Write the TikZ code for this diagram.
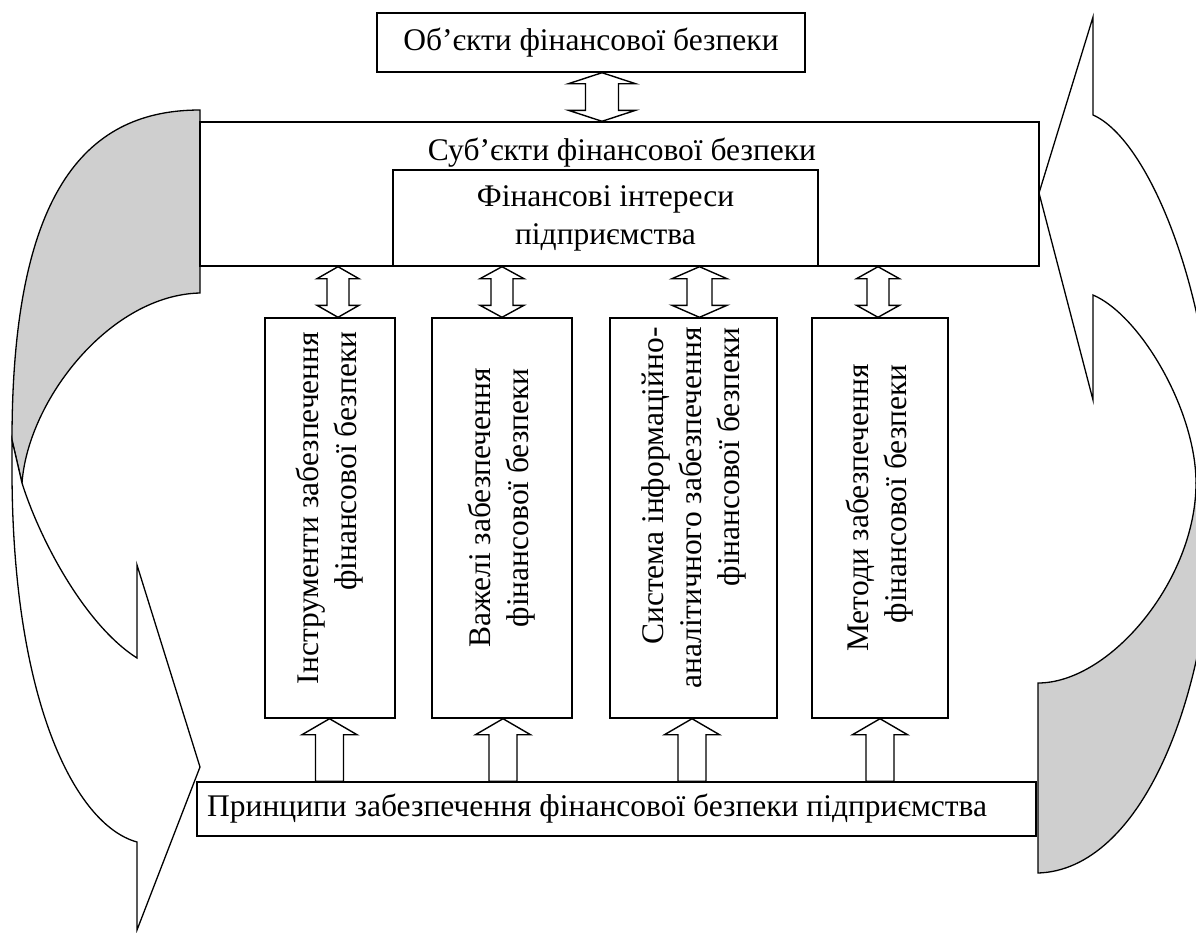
\documentclass[tikz,border=0pt]{standalone}
\usepackage{fontspec}
\setmainfont{Liberation Serif}
\usetikzlibrary{calc}
\definecolor{shade}{RGB}{207,207,207}
\tikzset{
  box/.style={draw, line width=1.4pt, fill=white, inner sep=0pt},
  txt/.style={font=\fontsize{31.5}{38}\selectfont, inner sep=0pt},
  vtxt/.style={txt, rotate=90, align=right},
  blockarrow/.style={draw, line width=1.4pt, fill=white, line join=miter},
  ribbon/.style={draw, line width=1.3pt, line join=miter},
}
\newcommand\darr[6]{%
  \coordinate (ax) at (#3,0);
  \coordinate (t) at (ax |- #1.south);
  \coordinate (b) at (ax |- #2.north);
  \path[blockarrow] (t) -- ++(#4,#6) -- ++({#5-#4},0) -- ($(b)+(#5,-#6)$) -- ++({#4-#5},0) -- (b)
    -- ++(-#4,-#6) -- ++({#4-#5},0) -- ($(t)+(-#5,#6)$) -- ++({#5-#4},0) -- cycle;
}
\newcommand\uarr[6]{%
  \coordinate (ax) at (#3,0);
  \coordinate (t) at (ax |- #2.south);
  \coordinate (b) at (ax |- #1.north);
  \path[blockarrow] (t) -- ++(#4,#6) -- ++({#5-#4},0) -- ($(b)+(#5,0)$) -- ($(b)+(-#5,0)$)
    -- ($(t)+(-#5,#6)$) -- ++({#5-#4},0) -- cycle;
}
\begin{document}
\begin{tikzpicture}[x=1pt,y=-1pt]
\useasboundingbox (0,0) rectangle (1196,932);
\begin{scope}
\clip (0,0) rectangle (1196,932);
% left curved arrow
\path[ribbon, fill=shade] (200,110) .. controls (90,110) and (12,185) .. (12,440) -- (22,483)
  .. controls (28,400) and (110,295) .. (200,293) -- cycle;
\path[ribbon, fill=white] (12,440) -- (12,470) .. controls (12,700) and (75,825) .. (137,842)
  -- (137,930) -- (200,767) -- (137,565) -- (137,658) .. controls (85,625) and (40,540) .. (22,483) -- cycle;
% right curved arrow
\path[ribbon, fill=shade] (1038,683) -- (1038,873) .. controls (1140,870) and (1215,700) .. (1215,480)
  -- (1196,483) .. controls (1196,580) and (1110,683) .. (1038,683) -- cycle;
\path[ribbon, fill=white] (1215,480) .. controls (1215,300) and (1150,140) .. (1093,115)
  -- (1093,17) -- (1039,193) -- (1093,400) -- (1093,295) .. controls (1140,315) and (1196,410) .. (1196,483) -- cycle;
\end{scope}

% boxes
\node[box, minimum width=428, minimum height=59] (obj) at (591,42.5) {};
\node[txt] (objt) at (obj) {Об’єкти фінансової безпеки};

\node[box, minimum width=839, minimum height=144] (subj) at (619.5,194) {};
\node[txt, anchor=base] (subjt) at (622,160) {Суб’єкти фінансової безпеки};
\node[box, minimum width=425, minimum height=96] (fin) at (605.5,218) {};
\node[txt, align=center] (fint) at (fin) {Фінансові інтереси\\підприємства};

\node[box, minimum width=130, minimum height=400] (b1) at (330,518) {};
\node[box, minimum width=140, minimum height=400] (b2) at (502,518) {};
\node[box, minimum width=167, minimum height=400] (b3) at (693.5,518) {};
\node[box, minimum width=136, minimum height=400] (b4) at (880,518) {};
\node[vtxt] (b1t) at ($(b1)+(0,-10)$) {Інструменти забезпечення\\фінансової безпеки};
\node[vtxt] (b2t) at ($(b2)+(0,-10)$) {Важелі забезпечення\\фінансової безпеки};
\node[vtxt] (b3t) at ($(b3)+(0,-10)$) {Система інформаційно-\\аналітичного забезпечення\\фінансової безпеки};
\node[vtxt] (b4t) at ($(b4)+(0,-10)$) {Методи забезпечення\\фінансової безпеки};

\node[box, minimum width=839, minimum height=54] (prin) at (616.5,809) {};
\node[txt, anchor=west] (print) at (207,809) {Принципи забезпечення фінансової безпеки підприємства};

% block arrows
\darr{obj}{subj}{602}{33.5}{16.5}{11}
\darr{subj}{b1}{338}{21}{11}{12}
\darr{subj}{b2}{502}{22}{11}{12}
\darr{subj}{b3}{699.5}{27.5}{12.5}{12}
\darr{subj}{b4}{878}{21.5}{11}{12}
\uarr{prin}{b1}{329.5}{27.5}{14}{16}
\uarr{prin}{b2}{503}{27.5}{14}{16}
\uarr{prin}{b3}{692}{27.5}{14}{16}
\uarr{prin}{b4}{880}{27.5}{14}{16}
\end{tikzpicture}
\end{document}
